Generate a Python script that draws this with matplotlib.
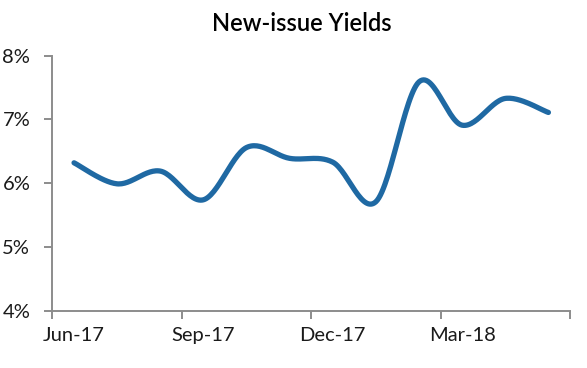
#!/usr/bin/env python3
import numpy as np
import matplotlib
matplotlib.use('Agg')
import matplotlib.pyplot as plt

months = ['Jun-17', 'Jul-17', 'Aug-17', 'Sep-17', 'Oct-17', 'Nov-17',
          'Dec-17', 'Jan-18', 'Feb-18', 'Mar-18', 'Apr-18', 'May-18']
yields = [6.32, 5.99, 6.19, 5.74, 6.56, 6.39, 6.33, 5.71, 7.59, 6.91, 7.33, 7.11]
shown_labels = ['Jun-17', 'Sep-17', 'Dec-17', 'Mar-18']


def smooth(xs, ys, n=30):
    # catmull-rom style bezier through the points (like a smoothed excel line)
    xs = np.asarray(xs, float)
    ys = np.asarray(ys, float)
    px = np.concatenate([[xs[0]], xs, [xs[-1]]])
    py = np.concatenate([[ys[0]], ys, [ys[-1]]])
    ox, oy = [], []
    t = np.linspace(0, 1, n)
    for i in range(1, len(px) - 2):
        p0 = np.array([px[i], py[i]])
        p3 = np.array([px[i + 1], py[i + 1]])
        c1 = p0 + (np.array([px[i + 1], py[i + 1]]) - np.array([px[i - 1], py[i - 1]])) / 6
        c2 = p3 - (np.array([px[i + 2], py[i + 2]]) - np.array([px[i], py[i]])) / 6
        b = ((1 - t) ** 3)[:, None] * p0 + (3 * (1 - t) ** 2 * t)[:, None] * c1 \
            + (3 * (1 - t) * t ** 2)[:, None] * c2 + (t ** 3)[:, None] * p3
        ox.extend(b[:, 0])
        oy.extend(b[:, 1])
    return np.array(ox), np.array(oy)


plt.rcParams['font.family'] = ['Lato', 'DejaVu Sans']

fig = plt.figure(figsize=(5.87, 3.68), dpi=100)
ax = fig.add_axes([0.0894, 0.1557, 0.8816, 0.6929])

idx = np.arange(len(months))
sx, sy = smooth(idx, yields)
ax.plot(sx, sy, color='#1f69a3', linewidth=3.8, solid_capstyle='round')

ax.set_xlim(-0.5, len(months) - 0.5)
ax.set_ylim(4, 8)
ax.set_xticks(np.arange(-0.5, len(months), 3))
ax.set_xticklabels([])
ax.set_xticks([months.index(m) for m in shown_labels], minor=True)
ax.set_xticklabels(shown_labels, minor=True)
ax.set_yticks([4, 5, 6, 7, 8])
ax.set_yticklabels(['4%', '5%', '6%', '7%', '8%'])

axis_grey = '#8c8c8c'
for side in ['top', 'right']:
    ax.spines[side].set_visible(False)
for side in ['left', 'bottom']:
    ax.spines[side].set_color(axis_grey)
    ax.spines[side].set_linewidth(1.4)
ax.tick_params(axis='x', which='major', length=6, width=1.4, color=axis_grey)
ax.tick_params(axis='x', which='minor', length=0, pad=12, labelsize=14.5, labelcolor='#1a1a1a')
ax.tick_params(axis='y', length=6, width=1.4, color=axis_grey, pad=10, labelsize=14.5, labelcolor='#1a1a1a')

fig.text(0.514, 0.935, 'New-issue Yields', ha='center', va='center', fontsize=17,
         fontweight='semibold', color='black')

fig.savefig('out.png', dpi=100)
